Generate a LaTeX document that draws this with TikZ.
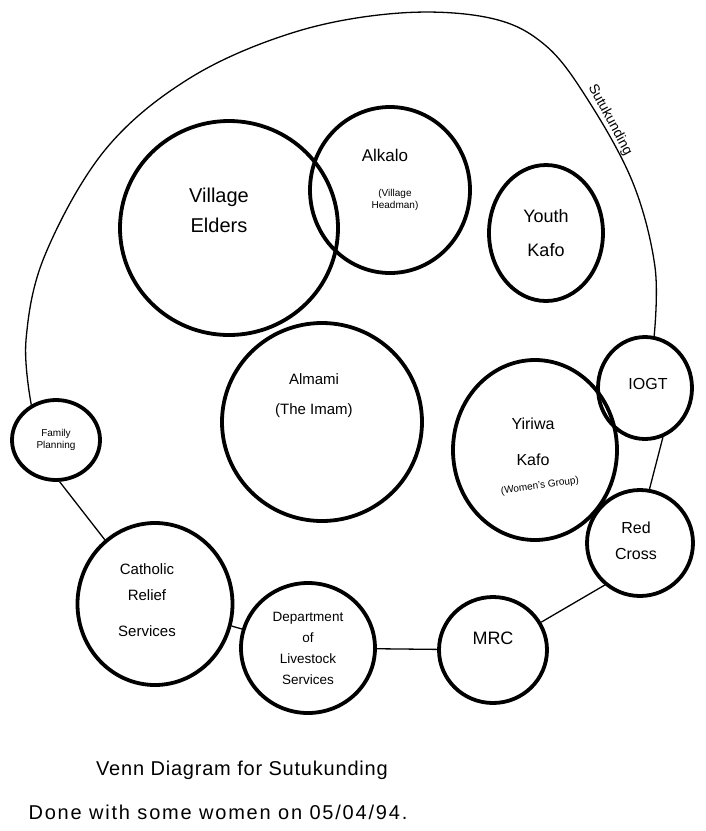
\documentclass[tikz,border=0pt]{standalone}
\usepackage{fontspec}
\setmainfont{Liberation Sans}
\usetikzlibrary{shapes.geometric,calc}

\begin{document}
\begin{tikzpicture}[
  x=1pt, y=-1pt,
  font=\fontsize{17}{21}\selectfont,
  grp/.style={draw, ellipse, line width=3.8pt, inner sep=0pt},
  lbl/.style={align=center, inner sep=1pt},
  tiny/.style={font=\fontsize{10}{12}\selectfont},
  border/.style={line width=1.3pt},
  tie/.style={line width=1.3pt}
]
\useasboundingbox (0,0) rectangle (706,831);

% groups inside the village
\node[grp, minimum width=218pt, minimum height=214pt] (elders) at (229,228) {};
\node[grp, minimum width=160pt, minimum height=166pt] (alkalo) at (390,190) {};
\node[grp, minimum width=114pt, minimum height=136pt] (youth) at (546,233) {};
\node[grp, minimum width=200pt, minimum height=198pt] (almami) at (322,422) {};
\node[grp, minimum width=164pt, minimum height=180pt] (yiriwa) at (535,450) {};

% groups on the border
\node[grp, minimum width=88pt, minimum height=80pt] (fp) at (56,440) {};
\node[grp, minimum width=94pt, minimum height=102pt] (iogt) at (645,388) {};
\node[grp, minimum width=106pt, minimum height=106pt] (rc) at (640,543) {};
\node[grp, minimum width=155pt, minimum height=162pt] (cath) at (155,604) {};
\node[grp, minimum width=134pt, minimum height=130pt] (dept) at (308,648) {};
\node[grp, minimum width=108pt, minimum height=106pt] (mrc) at (493,650) {};

% labels
\node[lbl, font=\fontsize{20}{30}\selectfont] (elders-txt) at ([shift={(-10,-18)}]elders) {Village\\Elders};
\node[lbl, font=\fontsize{17}{20}\selectfont] (alkalo-txt) at ([shift={(-5,-35)}]alkalo) {Alkalo};
\node[lbl, tiny] (alkalo-sub) at ([shift={(5,10)}]alkalo) {(Village\\Headman)};
\node[lbl, font=\fontsize{18}{34}\selectfont] (youth-txt) at (youth) {Youth\\Kafo};
\node[lbl, font=\fontsize{15}{30}\selectfont] (almami-txt) at ([shift={(-8,-26)}]almami) {Almami\\(The Imam)};
\node[lbl, tiny] (fp-txt) at (fp) {Family\\Planning};
\node[lbl, font=\fontsize{16}{36}\selectfont] (yiriwa-txt) at ([shift={(-2,-8)}]yiriwa) {Yiriwa\\Kafo};
\node[lbl, tiny, rotate=8] (yiriwa-sub) at ([shift={(5,36)}]yiriwa) {(Women's Group)};
\node[lbl, font=\fontsize{16}{20}\selectfont] (iogt-txt) at ([shift={(3,-4)}]iogt) {IOGT};
\node[lbl, font=\fontsize{16}{26}\selectfont] (rc-txt) at ([shift={(-4,-2)}]rc) {Red\\Cross};
\node[lbl, font=\fontsize{15}{26}\selectfont] (cath-txt) at ([shift={(-8,-4)}]cath) {Catholic\\Relief\\[10pt]Services};
\node[lbl, font=\fontsize{13.5}{21}\selectfont] (dept-txt) at (dept) {Department\\of\\Livestock\\Services};
\node[lbl, font=\fontsize{18}{20}\selectfont] (mrc-txt) at ([shift={(0,-12)}]mrc) {MRC};

% village border
\draw[border] plot[smooth, tension=0.6] coordinates {(fp.125) (26,340) (45,255) (105,150) (190,78) (295,32) (400,13) (490,18) (545,45) (588,100) (633,183) (655,267) (iogt.80)};
\draw[tie] (iogt.-70) -- (rc.80);
\draw[tie] (rc.-130) -- (mrc.30);
\draw[tie] (mrc) -- (dept);
\draw[tie] (dept) -- (cath);
\draw[tie] (cath.128) -- (fp.-85);
\node[lbl, rotate=-61.5, font=\fontsize{14}{16}\selectfont] (village) at (610,120) {Sutukunding};

% caption
\node[lbl, font=\fontsize{20}{22}\selectfont\addfontfeature{LetterSpace=4}] (title) at (242,770) {Venn Diagram for Sutukunding};
\node[lbl, font=\fontsize{20}{22}\selectfont\addfontfeature{LetterSpace=9}] (note) at (218,812) {Done with some women on 05/04/94.};
\end{tikzpicture}
\end{document}
